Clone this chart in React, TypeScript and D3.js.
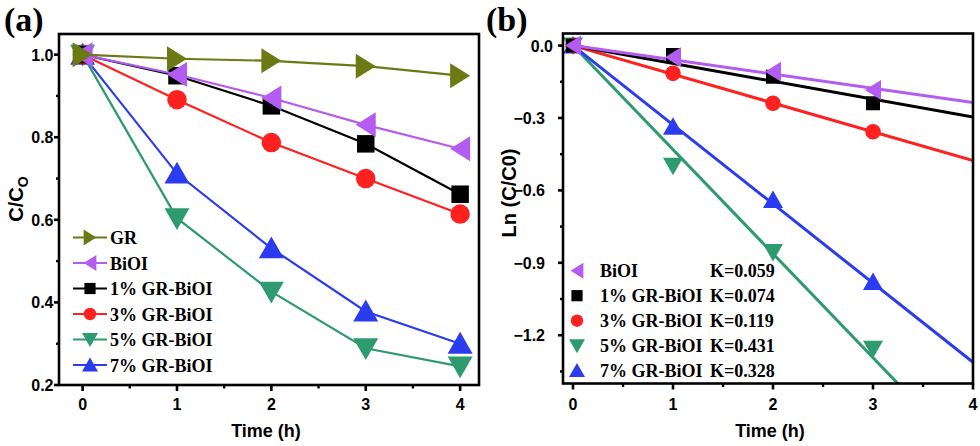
import React from "react";
import * as d3 from "d3";

const width = 980;
const height = 446;

// shared time points (h)
const times = [0, 1, 2, 3, 4];
const fitTimes = [0, 1, 2, 3];

// panel (a): C/C0
const seriesNames = ["GR", "BiOI", "1% GR-BiOI", "3% GR-BiOI", "5% GR-BiOI", "7% GR-BiOI"];
const grValues = [1.0, 0.99, 0.985, 0.972, 0.949];
const bioiValues = [1.0, 0.952, 0.895, 0.83, 0.772];
const gr1Values = [1.0, 0.949, 0.876, 0.784, 0.662];
const gr3Values = [1.0, 0.891, 0.787, 0.7, 0.614];
const gr5Values = [1.0, 0.604, 0.426, 0.289, 0.245];
const gr7Values = [1.0, 0.712, 0.531, 0.378, 0.3];

// panel (b): Ln(C/C0) and fitted rate constants
const fitNames = ["BiOI", "1% GR-BiOI", "3% GR-BiOI", "5% GR-BiOI", "7% GR-BiOI"];
const bioiLn = [0, -0.048, -0.108, -0.184];
const gr1Ln = [0, -0.039, -0.129, -0.239];
const gr3Ln = [0, -0.115, -0.239, -0.357];
const gr5Ln = [0, -0.498, -0.855, -1.256];
const gr7Ln = [0, -0.336, -0.64, -0.979];
const kValues = [0.059, 0.074, 0.119, 0.431, 0.328];
const kLabels = ["K=0.059", "K=0.074", "K=0.119", "K=0.431", "K=0.328"];

const colors: Record<string, string> = {
  GR: "#6b7a12",
  BiOI: "#b45cf2",
  "1% GR-BiOI": "#000000",
  "3% GR-BiOI": "#ff2020",
  "5% GR-BiOI": "#2e9b6f",
  "7% GR-BiOI": "#2b3cf0",
};
const shapes: Record<string, string> = {
  GR: "right",
  BiOI: "left",
  "1% GR-BiOI": "square",
  "3% GR-BiOI": "circle",
  "5% GR-BiOI": "down",
  "7% GR-BiOI": "up",
};

// marker path centered on 0,0; s = overall size
function markerPath(shape: string, s: number) {
  const h = s / 2;
  switch (shape) {
    case "right":
      return `M${-h * 0.8},${-h} L${h * 0.8},0 L${-h * 0.8},${h} Z`;
    case "left":
      return `M${h * 0.8},${-h} L${-h * 0.8},0 L${h * 0.8},${h} Z`;
    case "up":
      return `M${-h},${h * 0.8} L0,${-h * 0.95} L${h},${h * 0.8} Z`;
    case "down":
      return `M${-h},${-h * 0.8} L0,${h * 0.95} L${h},${-h * 0.8} Z`;
    case "square": {
      const q = h * 0.7;
      return `M${-q},${-q} H${q} V${q} H${-q} Z`;
    }
    default: {
      const r = h * 0.78;
      return `M${-r},0 A${r},${r} 0 1,0 ${r},0 A${r},${r} 0 1,0 ${-r},0 Z`;
    }
  }
}

const sansBold = { fontFamily: "'Liberation Sans', Arial, sans-serif", fontWeight: 700 };
const serifBold = { fontFamily: "'Liberation Serif', 'Times New Roman', serif", fontWeight: 700 };

// ----- panel a scales
const xa = d3.scaleLinear().domain([-0.25, 4.2]).range([59, 479]);
const ya = d3.scaleLinear().domain([0.2, 1.05]).range([385, 34]);
// ----- panel b scales
const xb = d3.scaleLinear().domain([-0.1, 4.0]).range([563, 973]);
const yb = d3.scaleLinear().domain([-1.4, 0.05]).range([383.5, 33.5]);

const aValues = [grValues, bioiValues, gr1Values, gr3Values, gr5Values, gr7Values];
const bValues = [bioiLn, gr1Ln, gr3Ln, gr5Ln, gr7Ln];

function Frame({ x, y }: { x: d3.ScaleLinear<number, number>; y: d3.ScaleLinear<number, number> }) {
  const [x0, x1] = x.range();
  const [y0, y1] = y.range();
  return (
    <rect x={x0} y={y1} width={x1 - x0} height={y0 - y1} fill="none" stroke="#000" strokeWidth={2.6} />
  );
}

function Panel({
  x,
  y,
  yMajor,
  yMinor,
  yFormat,
  labelEnd,
}: {
  x: d3.ScaleLinear<number, number>;
  y: d3.ScaleLinear<number, number>;
  yMajor: number[];
  yMinor: number[];
  yFormat: (d: number) => string;
  labelEnd: number;
}) {
  const [x0] = x.range();
  const [y0] = y.range();
  const xMajor = [0, 1, 2, 3, 4];
  const xMinor = [0.5, 1.5, 2.5, 3.5];
  return (
    <g>
      {xMajor.map((t) => (
        <g key={"xm" + t}>
          <line x1={x(t)} x2={x(t)} y1={y0} y2={y0 + 6} stroke="#000" strokeWidth={2.6} />
          <text x={x(t)} y={410} textAnchor="middle" fontSize={16} {...sansBold}>
            {t}
          </text>
        </g>
      ))}
      {xMinor.map((t) => (
        <line key={"xn" + t} x1={x(t)} x2={x(t)} y1={y0} y2={y0 + 3.5} stroke="#000" strokeWidth={2.4} />
      ))}
      {yMajor.map((v) => (
        <g key={"ym" + v}>
          <line x1={x0} x2={x0 - 5} y1={y(v)} y2={y(v)} stroke="#000" strokeWidth={2.6} />
          <text
            x={labelEnd + (Math.abs(v) < 1e-9 && labelEnd > 500 ? 8 : 0)}
            y={y(v) + 6}
            textAnchor="end"
            fontSize={16}
            {...sansBold}
          >
            {yFormat(v)}
          </text>
        </g>
      ))}
      {yMinor.map((v) => (
        <line key={"yn" + v} x1={x0} x2={x0 - 3} y1={y(v)} y2={y(v)} stroke="#000" strokeWidth={2.4} />
      ))}
    </g>
  );
}

export default function App() {
  const lineA = d3
    .line<[number, number]>()
    .x((d) => xa(d[0]))
    .y((d) => ya(d[1]));

  const drawOrder = [4, 5, 3, 2, 1, 0];
  const drawOrderB = [3, 4, 2, 1, 0];

  return (
    <svg width={width} height={height} style={{ display: "block", position: "absolute", left: 0, top: 0 }}>
      <defs>
        <clipPath id="clipB">
          <rect x={563} y={33.5} width={410} height={350} />
        </clipPath>
      </defs>
      <rect width={width} height={height} fill="#fff" />

      {/* ---------- panel (a) ---------- */}
      <text x={4} y={31} fontSize={34} {...serifBold}>
        (a)
      </text>
      <Panel
        x={xa}
        y={ya}
        yMajor={[0.2, 0.4, 0.6, 0.8, 1.0]}
        yMinor={[0.3, 0.5, 0.7, 0.9]}
        yFormat={d3.format(".1f")}
        labelEnd={53.5}
      />
      {drawOrder.map((i) => {
        const name = seriesNames[i];
        const pts = times.map((t, j) => [t, aValues[i][j]] as [number, number]);
        return (
          <g key={name}>
            <path d={lineA(pts) || ""} fill="none" stroke={colors[name]} strokeWidth={2.2} />
            {pts.map((p, j) => (
              <path
                key={j}
                d={markerPath(shapes[name], 25)}
                transform={`translate(${xa(p[0])},${ya(p[1])})`}
                fill={colors[name]}
              />
            ))}
          </g>
        );
      })}
      <Frame x={xa} y={ya} />
      {seriesNames.map((name, i) => {
        const cy = 237.5 + i * 25.5;
        return (
          <g key={"lga" + name}>
            <line x1={73} x2={107} y1={cy} y2={cy} stroke={colors[name]} strokeWidth={2.2} />
            <path d={markerPath(shapes[name], 16)} transform={`translate(90,${cy})`} fill={colors[name]} />
            <text x={110} y={cy + 6.5} fontSize={18} {...serifBold}>
              {name}
            </text>
          </g>
        );
      })}
      <text x={266} y={437} textAnchor="middle" fontSize={18} {...sansBold}>
        Time (h)
      </text>
      <text transform="translate(23,199) rotate(-90)" textAnchor="middle" fontSize={20} {...sansBold}>
        C/C
        <tspan fontSize={14} dy={5}>
          O
        </tspan>
      </text>

      {/* ---------- panel (b) ---------- */}
      <text x={486} y={31} fontSize={34} {...serifBold}>
        (b)
      </text>
      <Panel
        x={xb}
        y={yb}
        yMajor={[0, -0.3, -0.6, -0.9, -1.2]}
        yMinor={[-0.15, -0.45, -0.75, -1.05, -1.35]}
        yFormat={d3.format(".1f")}
        labelEnd={545}
      />
      <g clipPath="url(#clipB)">
        {drawOrderB.map((i) => {
          const name = fitNames[i];
          return (
            <line
              key={"fit" + name}
              x1={xb(0)}
              y1={yb(0)}
              x2={xb(4)}
              y2={yb(-kValues[i] * 4)}
              stroke={colors[name]}
              strokeWidth={3}
            />
          );
        })}
      </g>
      {drawOrderB.map((i) => {
        const name = fitNames[i];
        return (
          <g key={"pb" + name}>
            {fitTimes.map((t, j) => (
              <path
                key={j}
                d={markerPath(shapes[name], 20)}
                transform={`translate(${xb(t)},${yb(bValues[i][j])})`}
                fill={colors[name]}
              />
            ))}
          </g>
        );
      })}
      <Frame x={xb} y={yb} />
      {fitNames.map((name, i) => {
        const cy = 270.7 + i * 25;
        return (
          <g key={"lgb" + name}>
            <path d={markerPath(shapes[name], 16)} transform={`translate(577,${cy})`} fill={colors[name]} />
            <text x={600} y={cy + 6.5} fontSize={18} {...serifBold}>
              {name}
            </text>
            <text x={710} y={cy + 6.5} fontSize={18} {...serifBold}>
              {kLabels[i]}
            </text>
          </g>
        );
      })}
      <text x={770} y={437} textAnchor="middle" fontSize={18} {...sansBold}>
        Time (h)
      </text>
      <text transform="translate(516,193) rotate(-90)" textAnchor="middle" fontSize={20} {...sansBold}>
        Ln (C/C0)
      </text>
    </svg>
  );
}
